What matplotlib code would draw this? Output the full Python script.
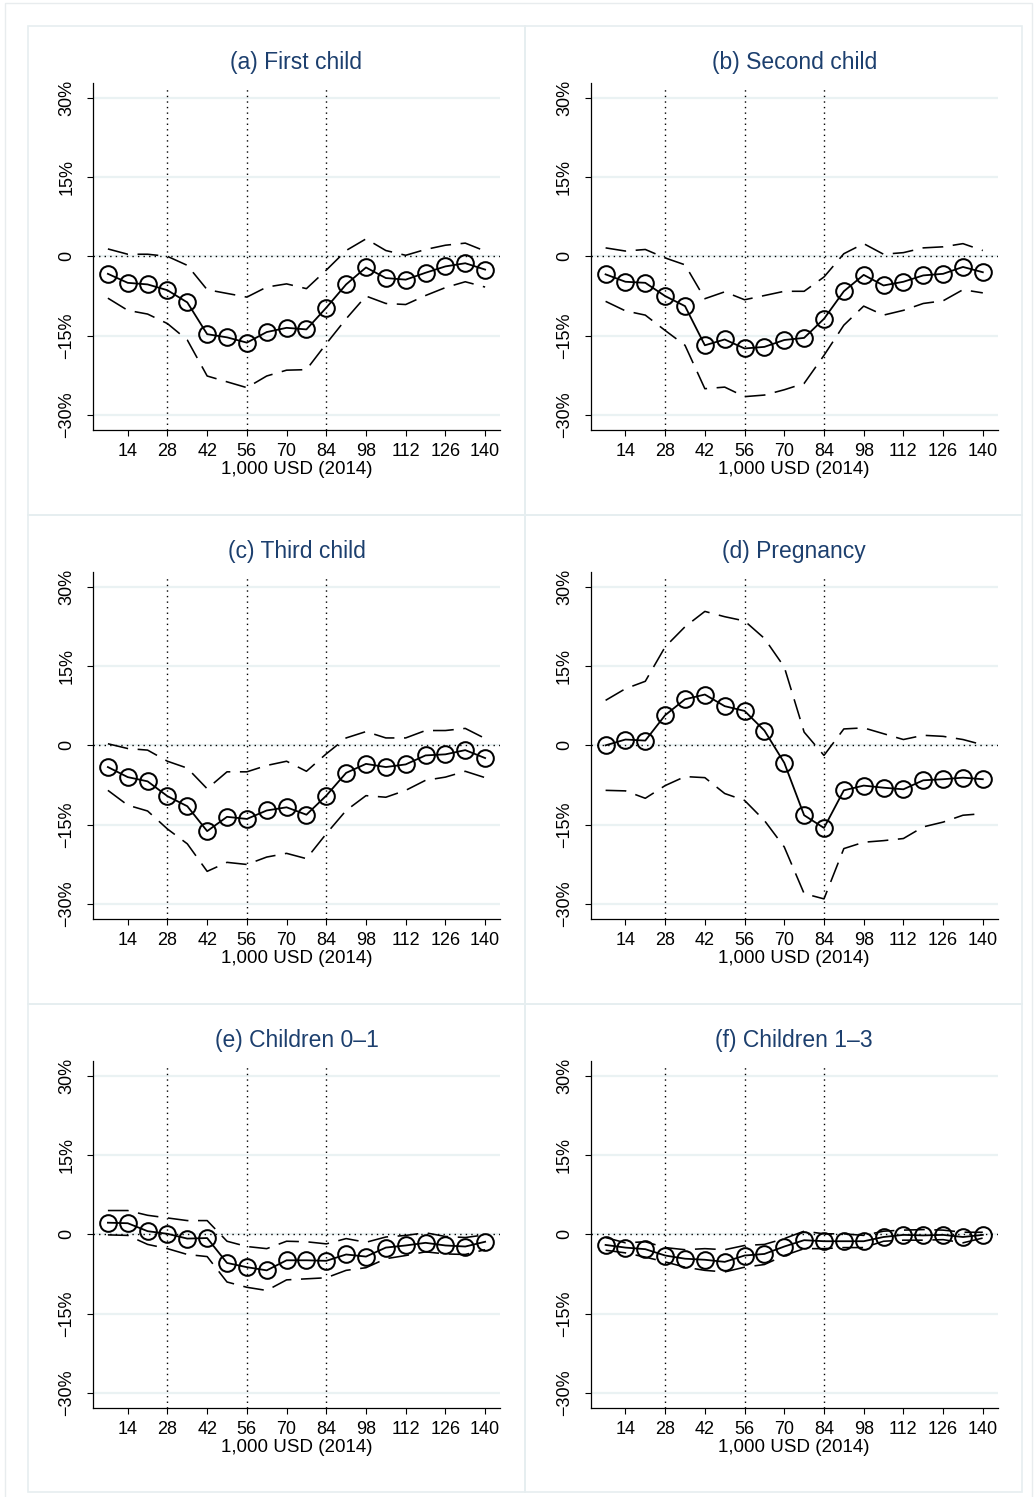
import matplotlib
matplotlib.use("Agg")
import matplotlib.pyplot as plt
from matplotlib.patches import Rectangle

plt.rcParams['font.family'] = ['Liberation Sans', 'DejaVu Sans']

# income bins, 1,000 USD (2014)
income = [7, 14, 21, 28, 35, 42, 49, 56, 63, 70, 77, 84, 91, 98, 105, 112, 119, 126, 133, 140]

# estimates and 95% bands, in percent
first_est = [-3.3, -5.0, -5.3, -6.4, -8.7, -14.7, -15.3, -16.3, -14.3, -13.5, -13.8, -9.7, -5.3, -2.1, -4.1, -4.4, -3.1, -1.9, -1.3, -2.5]
first_hi = [1.4, 0.4, 0.4, 0.0, -1.7, -6.3, -7.0, -7.7, -5.8, -5.2, -6.1, -2.6, 1.1, 3.3, 1.1, 0.2, 1.3, 2.1, 2.5, 1.0]
first_lo = [-7.9, -10.2, -10.9, -12.7, -15.8, -22.6, -23.7, -24.8, -22.6, -21.5, -21.4, -16.5, -11.8, -7.5, -8.9, -9.1, -7.4, -5.9, -4.8, -5.8]

second_est = [-3.4, -4.8, -5.0, -7.5, -9.4, -16.8, -15.7, -17.4, -17.1, -15.8, -15.4, -11.8, -6.6, -3.5, -5.5, -4.8, -3.6, -3.3, -2.0, -3.0]
second_hi = [1.6, 1.0, 1.3, -0.3, -1.6, -8.0, -6.7, -8.2, -7.4, -6.6, -6.6, -3.9, 0.5, 2.4, 0.4, 0.7, 1.6, 1.8, 2.4, 1.1]
second_lo = [-8.5, -10.3, -11.1, -14.0, -16.8, -25.0, -24.7, -26.5, -26.2, -25.2, -24.0, -18.7, -13.0, -9.4, -11.1, -10.2, -8.9, -8.4, -6.3, -6.9]

third_est = [-4.1, -6.0, -6.8, -9.6, -11.5, -16.2, -13.5, -13.9, -12.3, -11.7, -13.1, -9.5, -5.2, -3.5, -4.1, -3.6, -1.9, -1.7, -0.9, -2.4]
third_hi = [0.3, -0.6, -0.9, -3.0, -4.3, -8.2, -5.0, -5.0, -3.8, -3.0, -4.9, -1.6, 1.4, 2.6, 1.4, 1.4, 2.8, 2.8, 3.2, 1.3]
third_lo = [-8.5, -11.3, -12.4, -15.8, -18.6, -23.8, -22.1, -22.5, -21.1, -20.4, -21.4, -16.7, -12.3, -9.5, -9.8, -8.5, -6.6, -6.0, -4.9, -6.1]

preg_est = [0.0, 1.1, 0.9, 5.7, 8.7, 9.6, 7.4, 6.5, 2.8, -3.3, -13.2, -15.6, -8.5, -7.6, -8.0, -8.3, -6.6, -6.4, -6.1, -6.4]
preg_hi = [8.5, 10.7, 12.1, 18.6, 22.4, 25.3, 24.3, 23.5, 20.2, 14.8, 2.5, -1.9, 3.1, 3.3, 2.2, 1.1, 1.9, 1.7, 1.1, 0.1]
preg_lo = [-8.5, -8.6, -10.0, -7.6, -5.9, -6.1, -9.1, -10.4, -14.2, -19.2, -28.0, -29.0, -19.5, -18.3, -18.0, -17.6, -15.4, -14.5, -13.2, -12.9]

kids01_est = [2.2, 2.1, 0.6, 0.1, -0.8, -0.7, -5.4, -6.2, -6.8, -4.9, -4.9, -5.0, -3.8, -4.2, -2.5, -2.1, -1.6, -2.1, -2.3, -1.4]
kids01_hi = [4.5, 4.5, 3.6, 3.1, 2.6, 2.6, -1.3, -2.3, -2.7, -1.3, -1.4, -1.8, -0.8, -1.5, -0.5, -0.2, 0.3, -0.4, -0.6, -0.1]
kids01_lo = [-0.1, -0.2, -1.9, -2.7, -3.8, -4.2, -9.0, -10.0, -10.6, -8.6, -8.4, -8.2, -6.8, -6.3, -4.6, -4.0, -3.3, -3.7, -3.8, -2.9]

kids13_est = [-2.0, -2.5, -2.8, -4.0, -4.6, -4.8, -5.2, -4.0, -3.7, -2.3, -1.1, -1.3, -1.3, -1.3, -0.5, -0.1, -0.2, -0.1, -0.5, -0.1]
kids13_hi = [-0.6, -1.6, -1.4, -2.5, -2.9, -2.7, -2.9, -2.1, -1.9, -0.8, 0.6, 0.1, 0.1, -0.2, 0.6, 0.8, 0.9, 0.8, 0.4, 0.4]
kids13_lo = [-3.0, -3.5, -4.3, -5.2, -6.2, -6.8, -7.1, -6.2, -5.7, -4.0, -2.7, -2.7, -2.5, -2.5, -1.3, -1.1, -1.1, -1.0, -1.6, -0.7]

titles = ['(a) First child', '(b) Second child', '(c) Third child',
          '(d) Pregnancy', '(e) Children 0\u20131', '(f) Children 1\u20133']
xticks = [14, 28, 42, 56, 70, 84, 98, 112, 126, 140]
yticks = [-30, -15, 0, 15, 30]
ytick_labels = ['\u221230%', '\u221215%', '0', '15%', '30%']
cutoffs = [28, 56, 84]

panels = [
    (first_est, first_hi, first_lo),
    (second_est, second_hi, second_lo),
    (third_est, third_hi, third_lo),
    (preg_est, preg_hi, preg_lo),
    (kids01_est, kids01_hi, kids01_lo),
    (kids13_est, kids13_hi, kids13_lo),
]

W, H = 1034, 1497
fig = plt.figure(figsize=(W / 100, H / 100), dpi=100)
box_col = '#e6eef0'

# outer frame and panel frames (pixel layout)
fig.patches.append(Rectangle((5 / W, -0.01), 1027 / W, 1 - 3 / H + 0.01,
                             transform=fig.transFigure, fill=False,
                             edgecolor='#e8ecee', lw=1))
col_x = [28, 525, 1022]
row_y = [25.5, 514.5, 1003.5, 1492]
for r in range(3):
    for c in range(2):
        fig.patches.append(Rectangle((col_x[c] / W, 1 - row_y[r + 1] / H),
                                     (col_x[c + 1] - col_x[c]) / W,
                                     (row_y[r + 1] - row_y[r]) / H,
                                     transform=fig.transFigure, fill=False,
                                     edgecolor=box_col, lw=1.2))

ax_left = [93, 590.7]
ax_top = [82.7, 571.7, 1060.7]
ax_w, ax_h = 407, 347.3

for i, (est, hi, lo) in enumerate(panels):
    r, c = divmod(i, 2)
    ax = fig.add_axes([ax_left[c] / W, 1 - (ax_top[r] + ax_h) / H, ax_w / W, ax_h / H])
    ax.set_xlim(1.75, 145.25)
    ax.set_ylim(-32.8, 32.8)

    for y in yticks:
        ax.axhline(y, color='#eaf2f3', lw=1.6, zorder=0)
    ax.axhline(0, color='black', lw=1.0, ls=(0, (1, 3)), zorder=1)
    for xc in cutoffs:
        ax.axvline(xc, ymin=0, ymax=0.987, color='black', lw=1.0,
                   ls=(0, (1, 3)), zorder=1)

    ax.plot(income, hi, color='black', lw=1.15, ls=(0, (13, 6)), zorder=2)
    ax.plot(income, lo, color='black', lw=1.15, ls=(0, (13, 6)), zorder=2)
    ax.plot(income, est, color='black', lw=1.3, marker='o', ms=12,
            mfc='none', mec='black', mew=1.45, zorder=3)

    ax.set_xticks(xticks)
    ax.set_yticks(yticks)
    ax.set_yticklabels(ytick_labels, rotation=90, va='center')
    ax.tick_params(axis='both', direction='out', length=4.3, width=0.8,
                   labelsize=13, colors='black')
    ax.tick_params(axis='y', pad=8.5)
    ax.tick_params(axis='x', pad=5)
    ax.set_xlabel('1,000 USD (2014)', fontsize=13.5, labelpad=1)
    ax.set_title(titles[i], fontsize=16.5, color='#1c3f6e', pad=10)

    for s in ['top', 'right']:
        ax.spines[s].set_visible(False)
    for s in ['left', 'bottom']:
        ax.spines[s].set_linewidth(0.9)
    ax.set_facecolor('none')

fig.savefig('out.png', dpi=100, facecolor='white')
